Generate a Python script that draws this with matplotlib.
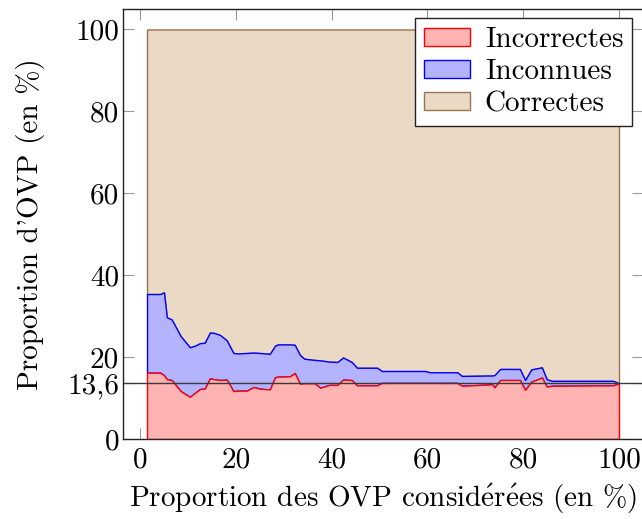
import matplotlib
matplotlib.use("Agg")
import matplotlib.pyplot as plt
from matplotlib.patches import Patch

plt.rcParams['font.family'] = ['cmr10', 'DejaVu Serif']
plt.rcParams['mathtext.fontset'] = 'cm'
plt.rcParams['axes.formatter.use_mathtext'] = True
plt.rcParams['axes.unicode_minus'] = False

# proportion d'OVP considérées (en %)
x = [1.46, 4.2, 5.0, 5.6, 6.6, 8.5, 10.4, 11.5, 12.5, 13.5, 14.6, 15.5, 16.7,
     18.1, 19.5, 20.5, 22.3, 23.7, 25.0, 27.1, 28.2, 28.8, 31.3, 32.3, 33.4,
     34.3, 36.5, 37.6, 39.5, 41.2, 42.4, 44.2, 45.3, 49.5, 50.5, 59.5, 60.5,
     66.2, 67.2, 72.8, 73.5, 74.0, 75.2, 79.3, 80.4, 81.7, 83.9, 84.9, 86.0,
     98.8, 100.0]

# part d'OVP incorrectes
incorrectes = [16.2, 16.2, 15.6, 14.6, 14.4, 11.7, 10.3, 11.3, 12.2, 12.3, 14.8,
               14.6, 14.4, 14.5, 11.7, 11.8, 11.8, 12.7, 12.3, 12.1, 15.1, 15.2,
               15.3, 16.1, 13.5, 13.6, 13.6, 12.5, 13.2, 13.2, 14.5, 14.4, 13.1,
               13.1, 13.7, 13.7, 13.7, 13.7, 13.0, 13.3, 13.4, 12.6, 14.4, 14.4,
               12.0, 14.0, 15.0, 12.8, 13.0, 13.1, 13.6]

# part d'OVP inconnues (empilée sur les incorrectes)
inconnues = [19.2, 19.2, 20.2, 15.1, 14.8, 13.4, 12.1, 11.5, 11.2, 11.2, 11.2,
             11.3, 11.0, 9.6, 9.3, 9.1, 9.2, 8.4, 8.7, 8.7, 7.7, 7.9, 7.8, 6.9,
             7.0, 6.0, 5.7, 6.7, 5.7, 5.6, 5.4, 4.4, 4.3, 4.3, 2.9, 2.9, 2.6,
             2.6, 2.4, 2.2, 2.1, 3.0, 2.7, 2.7, 2.4, 3.0, 2.5, 1.8, 1.2, 1.1, 0.0]

reference = 13.6

xticks = [0, 20, 40, 60, 80, 100]
yticks = [0, 13.6, 20, 40, 60, 80, 100]
yticklabels = ['0', '13,6', '20', '40', '60', '80', '100']

haut_inc = incorrectes
haut_tot = [a + b for a, b in zip(incorrectes, inconnues)]

red_fill = '#ffb3b3'
blue_fill = '#b3b3ff'
brown_fill = '#ead9c5'
brown_edge = '#9c7350'
fs = 21

fig = plt.figure(figsize=(6.42, 5.19), dpi=100)
ax = fig.add_axes([123.4 / 642, 80 / 519, 519.2 / 642, 430 / 519])

ax.fill_between(x, haut_tot, 100, facecolor=brown_fill, edgecolor=brown_edge,
                linewidth=1.0, zorder=1)
ax.fill_between(x, haut_inc, haut_tot, facecolor=blue_fill, edgecolor='blue',
                linewidth=1.0, zorder=2)
ax.fill_between(x, 0, haut_inc, facecolor=red_fill, edgecolor='red',
                linewidth=1.0, zorder=3)

ax.axhline(reference, color='#3a3a3a', linewidth=1.0, zorder=4)

ax.set_xlim(-3.47, 104.93)
ax.set_ylim(0, 105)
ax.set_xticks(xticks)
ax.set_xticklabels([str(t) for t in xticks])
ax.set_yticks(yticks)
ax.set_yticklabels(yticklabels)

ax.tick_params(direction='in', length=8, width=0.8, color='#9a9a9a',
               top=True, right=True, labelsize=fs)
ax.tick_params(axis='x', pad=6)
ax.tick_params(axis='y', pad=3)
for s in ax.spines.values():
    s.set_linewidth(1.0)
    s.set_color('#222222')
    s.set_zorder(5)

ax.set_xlabel(r'Proportion des OVP consid$\mathrm{\acute{e}}$r$\mathrm{\acute{e}}$es (en %)',
              fontsize=fs, labelpad=6)
ax.set_ylabel("Proportion d'OVP (en %)", fontsize=fs, labelpad=16)

handles = [
    Patch(facecolor=red_fill, edgecolor='red', linewidth=1.0, label='Incorrectes'),
    Patch(facecolor=blue_fill, edgecolor='blue', linewidth=1.0, label='Inconnues'),
    Patch(facecolor=brown_fill, edgecolor=brown_edge, linewidth=1.0, label='Correctes'),
]
leg = ax.legend(handles=handles, loc='upper right', bbox_to_anchor=(0.9796, 0.979),
                borderaxespad=0, fontsize=fs, frameon=True, fancybox=False,
                edgecolor='#222222', framealpha=1, handlelength=1.6,
                handleheight=0.55, labelspacing=0.2, handletextpad=0.5,
                borderpad=0.3)
leg.get_frame().set_linewidth(1.0)
leg.set_zorder(6)

fig.savefig('out.png', dpi=100)
